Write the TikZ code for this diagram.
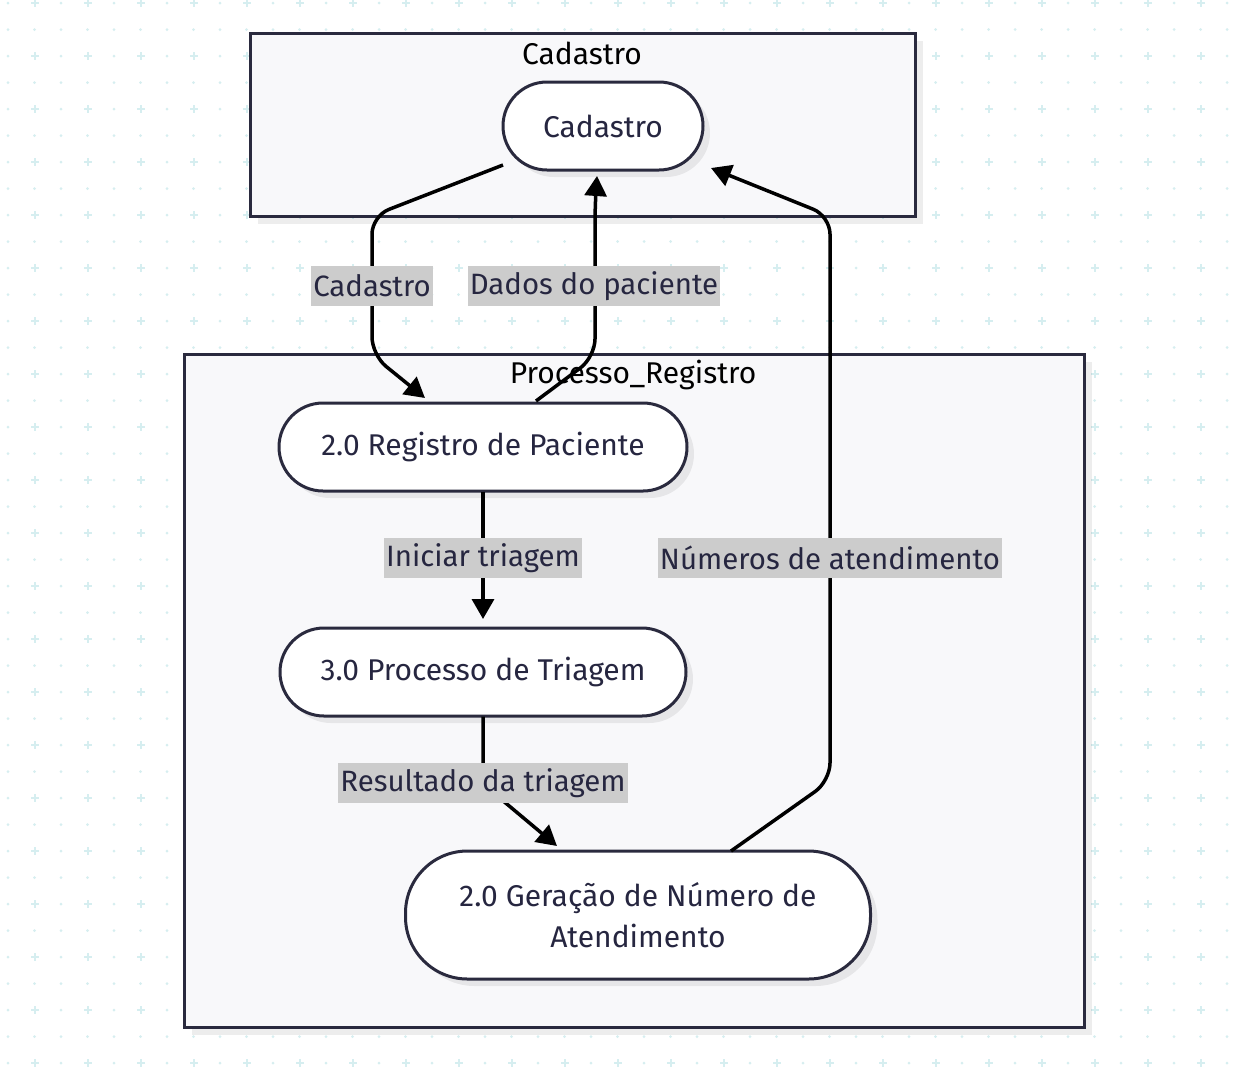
\documentclass[tikz,border=0pt]{standalone}
\usepackage{fontspec}
\setmainfont{Fira Sans}
\usetikzlibrary{arrows.meta,shadows,calc}
\definecolor{gridc}{HTML}{D6EEF0}
\definecolor{clusterfill}{HTML}{F8F8FA}
\definecolor{linec}{HTML}{2A2A3E}
\definecolor{textc}{HTML}{262640}
\definecolor{labelbg}{HTML}{CCCCCC}
\tikzset{
  basefont/.style={font=\fontsize{30}{41}\selectfont},
  lblfont/.style={font=\fontsize{29.4}{41}\selectfont},
  cluster/.style={draw=linec, line width=3, fill=clusterfill, inner sep=0,
    drop shadow={shadow xshift=8pt, shadow yshift=-8pt, fill=black, opacity=0.07}},
  ctitle/.style={basefont, text=black, inner sep=0},
  stadium/.style={draw=linec, line width=3, fill=white, basefont, text=textc,
    inner sep=0, align=center,
    drop shadow={shadow xshift=7pt, shadow yshift=-7pt, fill=black, opacity=0.07}},
  edge/.style={draw=black, line width=3.5, rounded corners=18,
    -{Triangle[length=20pt,width=22pt]}},
  lbl/.style={fill=labelbg, lblfont, text=textc, inner xsep=2, inner ysep=0,
    minimum height=40},
}
\begin{document}
\begin{tikzpicture}[x=1pt,y=-1pt]
\useasboundingbox (0,0) rectangle (1250,1077);
\fill[white] (0,0) rectangle (1250,1077);
% background grid
\foreach \m in {0,...,20} {
  \foreach \n in {0,...,23} {
    \fill[gridc] ({8+53*\n},{3+53*\m}) circle (1.5);
    \draw[gridc, line width=1.7] ({35+53*\n-4},{3+53*\m}) -- ({35+53*\n+4},{3+53*\m})
      ({35+53*\n},{3+53*\m-4}) -- ({35+53*\n},{3+53*\m+4});
  }
  \foreach \k in {0,...,47} {
    \fill[gridc] ({8+26.5*\k},{29.5+53*\m}) circle (1.5);
  }
}
% clusters
\node[cluster, minimum width=665, minimum height=183] (cCad) at (582.5,124.5) {};
\node[ctitle] (tCad) at (582,53) {Cadastro};
\node[cluster, minimum width=900, minimum height=673] (cReg) at (634,690.5) {};
\node[ctitle] (tReg) at (633,375) {Processo\_Registro};
% nodes
\node[stadium, minimum width=200, minimum height=88, rounded corners=44] (cad) at (603,126) {Cadastro};
\node[stadium, minimum width=408, minimum height=88, rounded corners=44] (reg) at (483,447) {2.0 Registro de Paciente};
\node[stadium, minimum width=406, minimum height=88, rounded corners=44] (tri) at (483,672) {3.0 Processo de Triagem};
\node[stadium, minimum width=465, minimum height=128, rounded corners=62] (ger) at (638,915) {2.0 Geração de Número de\\Atendimento};
% edges
\draw[edge] ($(cad)+(-100,39)$) -- (372,216) -- (372,355) -- ($(reg)+(-58,-49)$);
\draw[edge] ($(reg)+(53,-46)$) -- (595,357) -- (595,205) -- ($(cad)+(-6,50)$);
\draw[edge] ($(reg.south)+(0,-1)$) -- ($(reg)+(0,172)$);
\draw[edge] ($(tri.south)+(0,-1)$) -- (483,784) -- ($(ger)+(-81,-69)$);
\draw[edge] ($(ger)+(93,-64)$) -- (830,781) -- (830,216) -- ($(cad)+(108,42)$);
% labels
\node[lbl] (l1) at (372,286) {Cadastro};
\node[lbl] (l2) at (594,286) {Dados do paciente};
\node[lbl] (l3) at (483,558) {Iniciar triagem};
\node[lbl] (l4) at (483,783) {Resultado da triagem};
\node[lbl] (l5) at (830,558) {Números de atendimento};
\end{tikzpicture}
\end{document}
